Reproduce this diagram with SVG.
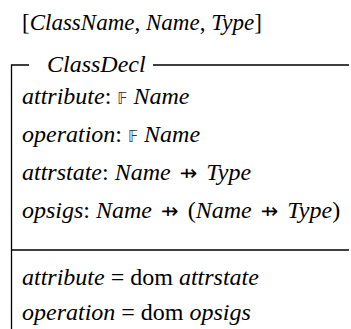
<svg xmlns="http://www.w3.org/2000/svg" width="351" height="329" viewBox="0 0 351 329">
<style>
.t{font-family:'Liberation Serif','Times New Roman',Times,serif;font-size:24px;fill:#000}
.i{font-style:italic}
.bb{font-family:'DejaVu Sans',sans-serif;font-size:15px;font-style:normal;fill:#333}
.ar{font-family:'DejaVu Sans',sans-serif;font-size:21px;font-style:normal}
.ln{stroke:#000;stroke-width:1.3;fill:none}
</style>
<rect width="351" height="329" fill="#fff"/>
<g id="params">
<text class="t" x="22" y="30" style="font-size:23px">[<tspan class="i">ClassName</tspan>, <tspan class="i">Name</tspan>, <tspan class="i">Type</tspan>]</text>
</g>
<g id="ClassDecl">
<g id="frame">
<path class="ln" d="M11.5 329V65H29M153 65H349"/>
<path class="ln" d="M11.5 250H349"/>
</g>
<text class="t i" x="47" y="72">ClassDecl</text>
<g id="declarations">
<text class="t" x="22" y="104"><tspan class="i">attribute</tspan>: <tspan class="bb">𝔽</tspan> <tspan class="i">Name</tspan></text>
<text class="t" x="22" y="142"><tspan class="i">operation</tspan>: <tspan class="bb">𝔽</tspan> <tspan class="i">Name</tspan></text>
<text class="t" x="22" y="180"><tspan class="i">attrstate</tspan>: <tspan class="i">Name</tspan> <tspan class="ar" dx="3">⇸</tspan> <tspan class="i" dx="3">Type</tspan></text>
<text class="t" x="22" y="218"><tspan class="i">opsigs</tspan>: <tspan class="i">Name</tspan> <tspan class="ar" dx="3">⇸</tspan> <tspan dx="3">(</tspan><tspan class="i">Name</tspan> <tspan class="ar" dx="3">⇸</tspan> <tspan class="i" dx="3">Type</tspan>)</text>
</g>
<g id="predicates">
<text class="t" x="22" y="285"><tspan class="i">attribute</tspan> = dom <tspan class="i">attrstate</tspan></text>
<text class="t" x="22" y="320"><tspan class="i">operation</tspan> = dom <tspan class="i">opsigs</tspan></text>
</g>
</g>
</svg>
